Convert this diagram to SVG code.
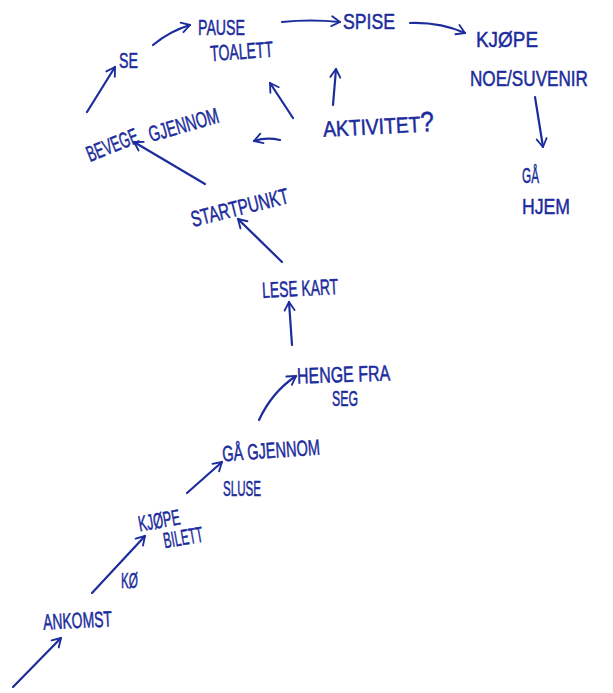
<svg xmlns="http://www.w3.org/2000/svg" width="613" height="693" viewBox="0 0 613 693">
<style>
.t{font-family:"Liberation Sans","DejaVu Sans",sans-serif;font-size:22px;fill:#1c2c9c;stroke:#1c2c9c;stroke-width:0.5}
.c{fill:none;stroke:#1c2c9c;stroke-width:2.2;stroke-linecap:round;stroke-linejoin:round;marker-end:url(#ah)}
</style>
<defs>
<marker id="ah" viewBox="0 0 12 12" refX="10" refY="6" markerWidth="10" markerHeight="10" markerUnits="userSpaceOnUse" orient="auto" overflow="visible">
<path d="M0,0 L10,6 L0,12" fill="none" stroke="#1c2c9c" stroke-width="2.2" stroke-linecap="round" stroke-linejoin="round"/>
</marker>
</defs>
<rect width="613" height="693" fill="#ffffff"/>
<g id="connectors">
<path class="c" d="M13,687 L61,638"/>
<path class="c" d="M92,593 L145,536"/>
<path class="c" d="M187,493 L222,462"/>
<path class="c" d="M259,420 Q272,392 296,376"/>
<path class="c" d="M292,345 L289,302"/>
<path class="c" d="M282,262 L238,219"/>
<path class="c" d="M205,184 L134,142"/>
<path class="c" d="M87,112 L115,67"/>
<path class="c" d="M153,45 Q170,31 190,25"/>
<path class="c" d="M282,22 Q310,19 340,22"/>
<path class="c" d="M410,23 Q440,22 465,33"/>
<path class="c" d="M535,97 L543,147"/>
<path class="c" d="M333,105 L336,69"/>
<path class="c" d="M293,118 L270,83"/>
<path class="c" d="M280,140 Q266,137 254,141"/>
</g>
<g id="ankomst"><text class="t" x="43" y="628" textLength="69" lengthAdjust="spacingAndGlyphs" transform="rotate(-3 78 620)">ANKOMST</text></g>
<g id="ko"><text class="t" x="121" y="588" font-size="18" textLength="17" lengthAdjust="spacingAndGlyphs">KØ</text></g>
<g id="kjope-bilett">
<text class="t" x="138" y="528" textLength="42" lengthAdjust="spacingAndGlyphs" transform="rotate(-10 159 520)">KJØPE</text>
<text class="t" x="163" y="545" textLength="40" lengthAdjust="spacingAndGlyphs" transform="rotate(-10 183 537)">BILETT</text>
</g>
<g id="ga-gjennom-sluse">
<text class="t" x="222" y="458" textLength="98" lengthAdjust="spacingAndGlyphs" transform="rotate(-4 271 450)">GÅ GJENNOM</text>
<text class="t" x="223" y="496" textLength="38" lengthAdjust="spacingAndGlyphs">SLUSE</text>
</g>
<g id="henge-fra-seg">
<text class="t" x="297" y="382" textLength="93" lengthAdjust="spacingAndGlyphs" transform="rotate(-2 343 373)">HENGE FRA</text>
<text class="t" x="332" y="406" textLength="26" lengthAdjust="spacingAndGlyphs">SEG</text>
</g>
<g id="lese-kart"><text class="t" x="262" y="296" textLength="76" lengthAdjust="spacingAndGlyphs" transform="rotate(-3 300 288)">LESE KART</text></g>
<g id="startpunkt"><text class="t" x="193" y="227" textLength="100" lengthAdjust="spacingAndGlyphs" transform="rotate(-14 193 227)">STARTPUNKT</text></g>
<g id="bevege-gjennom">
<text class="t" x="90" y="162" textLength="54" lengthAdjust="spacingAndGlyphs" transform="rotate(-22 90 162)">BEVEGE</text>
<text class="t" x="151" y="142" textLength="72" lengthAdjust="spacingAndGlyphs" transform="rotate(-16 151 142)">GJENNOM</text>
</g>
<g id="se"><text class="t" x="119" y="68" textLength="19" lengthAdjust="spacingAndGlyphs">SE</text></g>
<g id="pause-toalett">
<text class="t" x="198" y="35" textLength="47" lengthAdjust="spacingAndGlyphs">PAUSE</text>
<text class="t" x="210" y="59" textLength="63" lengthAdjust="spacingAndGlyphs" transform="rotate(-4 241 51)">TOALETT</text>
</g>
<g id="spise"><text class="t" x="343" y="29" textLength="52" lengthAdjust="spacingAndGlyphs">SPISE</text></g>
<g id="kjope-noe-suvenir">
<text class="t" x="476" y="47" textLength="62" lengthAdjust="spacingAndGlyphs">KJØPE</text>
<text class="t" x="470" y="86" font-size="18" textLength="118" lengthAdjust="spacingAndGlyphs">NOE/SUVENIR</text>
</g>
<g id="ga-hjem">
<text class="t" x="522" y="183" font-size="25" textLength="17" lengthAdjust="spacingAndGlyphs">GÅ</text>
<text class="t" x="522" y="214" font-size="25" textLength="48" lengthAdjust="spacingAndGlyphs">HJEM</text>
</g>
<g id="aktivitet"><text class="t" x="323" y="134" textLength="111" lengthAdjust="spacingAndGlyphs" transform="rotate(-3 378 126)">AKTIVITET<tspan font-size="28">?</tspan></text></g>
</svg>
